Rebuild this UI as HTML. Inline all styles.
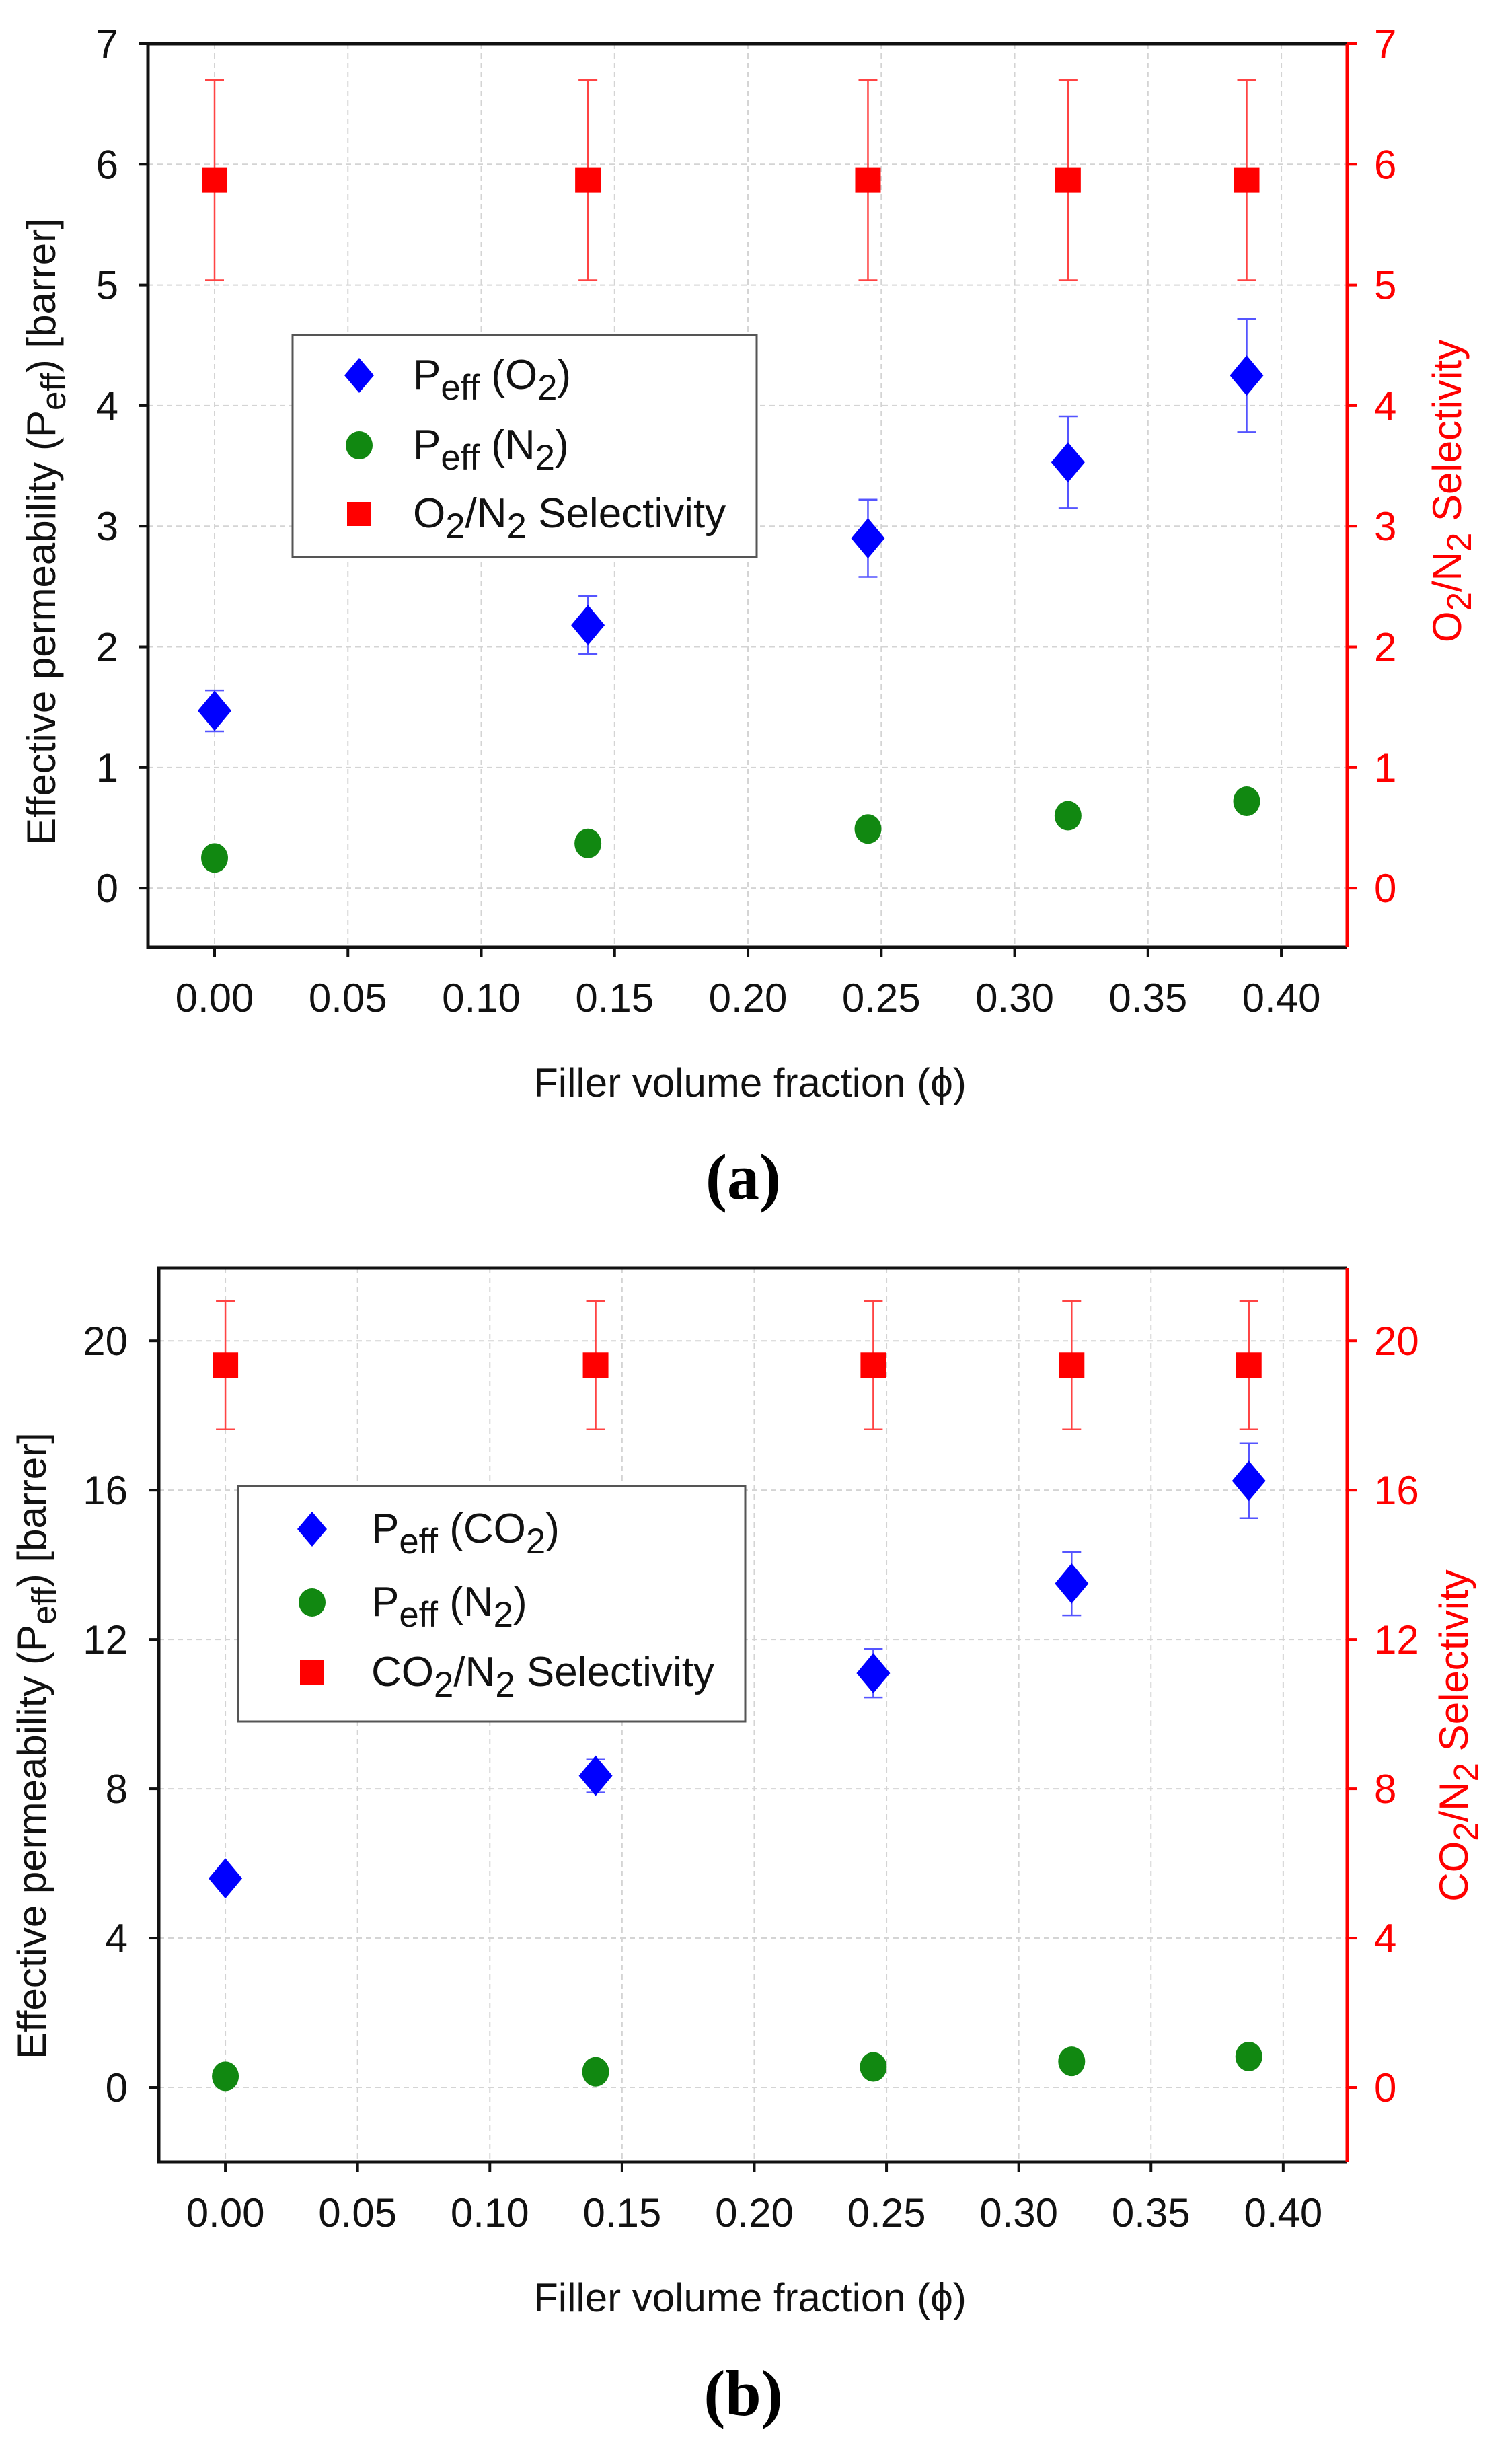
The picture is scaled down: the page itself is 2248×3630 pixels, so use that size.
<!DOCTYPE html>
<html><head><meta charset="utf-8"><style>
html,body{margin:0;padding:0;background:#fff}
svg{display:block}
</style></head><body>
<svg id="fig" width="2248" height="3630" viewBox="0 0 2248 3630" xmlns="http://www.w3.org/2000/svg" font-family="Liberation Sans, sans-serif">
<rect width="2248" height="3630" fill="#fff"/>
</svg>
<script>
// Panel (a) data
const phiA = [0, 0.14, 0.245, 0.32, 0.387];
const o2Perm = [1.47, 2.18, 2.9, 3.53, 4.25];
const o2Err = [0.17, 0.24, 0.32, 0.38, 0.47];
const n2PermA = [0.25, 0.37, 0.49, 0.6, 0.72];
const selA = [5.87, 5.87, 5.87, 5.87, 5.87];
const selErrA = [0.83, 0.83, 0.83, 0.83, 0.83];
const yTicksA = [0, 1, 2, 3, 4, 5, 6, 7];
// Panel (b) data
const phiB = [0, 0.14, 0.245, 0.32, 0.387];
const co2Perm = [5.6, 8.35, 11.1, 13.5, 16.25];
const co2Err = [0.2, 0.45, 0.65, 0.85, 1.0];
const n2PermB = [0.3, 0.42, 0.55, 0.7, 0.83];
const selB = [19.35, 19.35, 19.35, 19.35, 19.35];
const selErrB = [1.72, 1.72, 1.72, 1.72, 1.72];
const yTicksB = [0, 4, 8, 12, 16, 20];
const xTicks = ["0.00","0.05","0.10","0.15","0.20","0.25","0.30","0.35","0.40"];

const NS = "http://www.w3.org/2000/svg";
const svg = document.getElementById('fig');
function mk(tag, attrs, parent, txt){
  const e = document.createElementNS(NS, tag);
  for (const k in attrs) e.setAttribute(k, attrs[k]);
  if (txt !== undefined) e.textContent = txt;
  (parent||svg).appendChild(e);
  return e;
}

function panel(cfg){
  const g = mk('g', {});
  
  
  const {L,R,T,B,xmin,xmax,ymin,ymax} = cfg;
  const X = v => L + (v - xmin) / (xmax - xmin) * (R - L);
  const Y = v => B - (v - ymin) / (ymax - ymin) * (B - T);
  xTicks.forEach(t => {
    const gl = mk('line', {x1:X(+t), x2:X(+t), y1:T, y2:B, stroke:'#d4d4d4', 'stroke-width':2, 'stroke-dasharray':'8,6'}, g);
    
    
  });
  cfg.yTicks.forEach(t => {
    const gl = mk('line', {x1:L, x2:R, y1:Y(t), y2:Y(t), stroke:'#d4d4d4', 'stroke-width':2, 'stroke-dasharray':'8,6'}, g);
    
    
  });
  const ax = mk('path', {d:`M${R} ${T} L${L} ${T} L${L} ${B} L${R} ${B}`, fill:'none', stroke:'#111', 'stroke-width':5}, g);
  
  
  const rax = mk('line', {x1:R, x2:R, y1:T, y2:B, stroke:'#f00', 'stroke-width':5}, g);
  
  
  xTicks.forEach(t => {
    mk('line', {x1:X(+t), x2:X(+t), y1:B, y2:B+14, stroke:'#111', 'stroke-width':4}, g);
    const tl = mk('text', {x:X(+t), y:cfg.xLabelY, 'font-size':60, 'text-anchor':'middle', fill:'#111'}, g, t);
    
    
  });
  cfg.yTicks.forEach(t => {
    mk('line', {x1:L-14, x2:L, y1:Y(t), y2:Y(t), stroke:'#111', 'stroke-width':4}, g);
    const tl = mk('text', {x:cfg.leftLabelX, y:Y(t)+21, 'font-size':60, 'text-anchor':'end', fill:'#111'}, g, String(t));
    
    
    mk('line', {x1:R, x2:R+14, y1:Y(t), y2:Y(t), stroke:'#f00', 'stroke-width':4}, g);
    const tr = mk('text', {x:R+40, y:Y(t)+21, 'font-size':60, 'text-anchor':'start', fill:'#f00'}, g, String(t));
    
    
  });
  function ebar(x, y, e, col, w){
    const cx = X(x);
    mk('line', {x1:cx, x2:cx, y1:Y(y-e), y2:Y(y+e), stroke:col, 'stroke-width':2.5}, g);
    mk('line', {x1:cx-w, x2:cx+w, y1:Y(y+e), y2:Y(y+e), stroke:col, 'stroke-width':2.5}, g);
    mk('line', {x1:cx-w, x2:cx+w, y1:Y(y-e), y2:Y(y-e), stroke:col, 'stroke-width':2.5}, g);
  }
  cfg.phi.forEach((p,i) => {
    ebar(p, cfg.sel[i], cfg.selErr[i], '#f44', 14);
    const s = mk('rect', {x:X(p)-19, y:Y(cfg.sel[i])-19, width:38, height:38, fill:'#f00'}, g);
    
    
    ebar(p, cfg.perm[i], cfg.permErr[i], '#55f', 14);
    const cx = X(p), cy = Y(cfg.perm[i]);
    const d = mk('path', {d:`M${cx} ${cy-30} L${cx+25} ${cy} L${cx} ${cy+30} L${cx-25} ${cy} Z`, fill:'#00f'}, g);
    
    
    const c = mk('ellipse', {cx:cx, cy:Y(cfg.n2[i]), rx:20, ry:22, fill:'#118811'}, g);
    
    
  });
  return {g, X, Y};
}

function sub(parent, x, y, parts, size, fill, anchor, rot){
  const t = mk('text', {x:x, y:y, 'font-size':size, fill:fill, 'text-anchor':anchor||'start'}, parent);
  if (rot) t.setAttribute('transform', rot);
  parts.forEach(p => {
    const ts = mk('tspan', {}, t, p[0]);
    if (p[1]) { ts.setAttribute('baseline-shift', '-30%'); ts.setAttribute('font-size', size*0.85); }
  });
  return t;
}

panel({name:'chart-a', L:220, R:2003, T:65, B:1408, xmin:-0.02497, xmax:0.4247, ymin:-0.49, ymax:7,
  yTicks:yTicksA, phi:phiA, perm:o2Perm, permErr:o2Err, n2:n2PermA, sel:selA, selErr:selErrA, leftLabelX:176, xLabelY:1504});
panel({name:'chart-b', L:236, R:2003, T:1885, B:3214, xmin:-0.0252, xmax:0.4242, ymin:-2, ymax:21.95,
  yTicks:yTicksB, phi:phiB, perm:co2Perm, permErr:co2Err, n2:n2PermB, sel:selB, selErr:selErrB, leftLabelX:190, xLabelY:3310});

let t;
t = sub(svg, 0, 0, [['Effective permeability (P'],['eff','sub'],[') [barrer]']], 60, '#111', 'middle', 'translate(82 790) rotate(-90)');
 
t = sub(svg, 0, 0, [['O'],['2','sub'],['/N'],['2','sub'],[' Selectivity']], 60, '#f00', 'middle', 'translate(2172 730) rotate(-90)');
 
t = mk('text', {x:1115, y:1630, 'font-size':60, 'text-anchor':'middle', fill:'#111'}, svg, 'Filler volume fraction (\u03d5)');
 
t = mk('text', {x:1105, y:1782, 'font-size':96, 'font-weight':'bold', 'text-anchor':'middle', fill:'#000', 'font-family':'Liberation Serif, serif'}, svg, '(a)');
 

t = sub(svg, 0, 0, [['Effective permeability (P'],['eff','sub'],[') [barrer]']], 60, '#111', 'middle', 'translate(68 2595) rotate(-90)');
 
t = sub(svg, 0, 0, [['CO'],['2','sub'],['/N'],['2','sub'],[' Selectivity']], 60, '#f00', 'middle', 'translate(2182 2580) rotate(-90)');
 
t = mk('text', {x:1115, y:3436, 'font-size':60, 'text-anchor':'middle', fill:'#111'}, svg, 'Filler volume fraction (\u03d5)');
 
t = mk('text', {x:1105, y:3590, 'font-size':96, 'font-weight':'bold', 'text-anchor':'middle', fill:'#000', 'font-family':'Liberation Serif, serif'}, svg, '(b)');
 

function legend(name, x, y, w, h, labels, lx, tx, rowY){
  const g = mk('g', {});
  
  
  mk('rect', {x:x, y:y, width:w, height:h, fill:'#fff', stroke:'#555', 'stroke-width':3}, g);
  mk('path', {d:`M${lx} ${rowY[0]-26} L${lx+22} ${rowY[0]} L${lx} ${rowY[0]+26} L${lx-22} ${rowY[0]} Z`, fill:'#00f'}, g);
  mk('ellipse', {cx:lx, cy:rowY[1], rx:20, ry:21, fill:'#118811'}, g);
  mk('rect', {x:lx-18, y:rowY[2]-18, width:36, height:36, fill:'#f00'}, g);
  labels.forEach((parts,i) => {
    const e = sub(g, tx, rowY[i]+20, parts, 62, '#111', 'start');
    
    
  });
}
legend('legend-a', 435, 498, 690, 330, [
  [['P'],['eff','sub'],[' (O'],['2','sub'],[')']],
  [['P'],['eff','sub'],[' (N'],['2','sub'],[')']],
  [['O'],['2','sub'],['/N'],['2','sub'],[' Selectivity']]
], 534, 614, [558, 662, 764]);
legend('legend-b', 354, 2209, 754, 350, [
  [['P'],['eff','sub'],[' (CO'],['2','sub'],[')']],
  [['P'],['eff','sub'],[' (N'],['2','sub'],[')']],
  [['CO'],['2','sub'],['/N'],['2','sub'],[' Selectivity']]
], 464, 552, [2273, 2382, 2486]);
</script>
</body></html>
